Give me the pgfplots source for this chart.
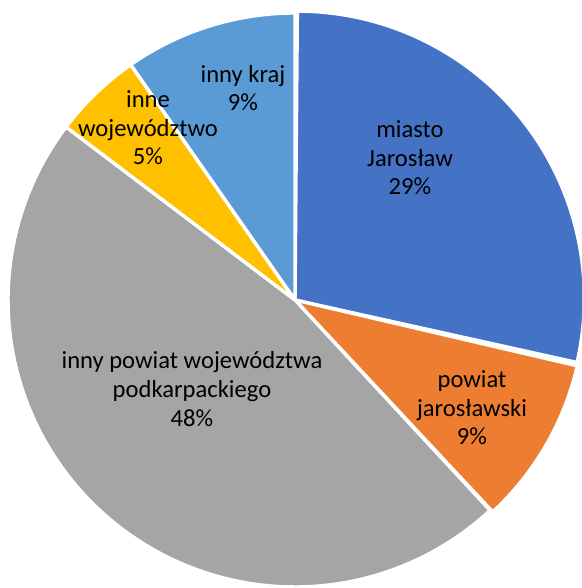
\documentclass[border=0pt]{standalone}
\usepackage{pgfplots}
\pgfplotsset{compat=1.18}
\usepackage{fontspec}
\setmainfont{Carlito}
\definecolor{cBlue}{HTML}{4472C4}
\definecolor{cOrange}{HTML}{ED7D31}
\definecolor{cGray}{HTML}{A5A5A5}
\definecolor{cGold}{HTML}{FFC000}
\definecolor{cLBlue}{HTML}{5B9BD5}
% shares (percent), clockwise from 12 o'clock
\def\vA{28.6}\def\vB{9.5}\def\vC{47.2}\def\vD{5.0}\def\vE{9.7}
\def\cx{295}\def\cy{288}\def\R{287}
\pgfmathsetmacro{\aA}{90}
\pgfmathsetmacro{\aB}{\aA-3.6*\vA}
\pgfmathsetmacro{\aC}{\aB-3.6*\vB}
\pgfmathsetmacro{\aD}{\aC-3.6*\vC}
\pgfmathsetmacro{\aE}{\aD-3.6*\vD}
\pgfmathsetmacro{\aF}{\aE-3.6*\vE}
\newcommand{\slice}[4]{%
  \pgfmathsetmacro{\ox}{\cx+#4*cos((#1+#2)/2)}%
  \pgfmathsetmacro{\oy}{\cy+#4*sin((#1+#2)/2)}%
  \addplot[fill=#3, draw=white, line width=1.7pt, line join=round, domain=#2:#1, samples=90, variable=\t]
    ({\ox+\R*cos(\t)}, {\oy+\R*sin(\t)}) -- (axis cs:\ox,\oy) -- cycle;
}
\tikzset{lbl/.style={font=\fontsize{12.3}{14.3}\selectfont, align=center, text=black, inner sep=0pt}}
\begin{document}
\begin{tikzpicture}
\begin{axis}[x=0.5pt, y=0.5pt, xmin=0, xmax=582, ymin=0, ymax=588,
  hide axis, clip=true]
\path (axis cs:0,0) rectangle (axis cs:582,588);
\slice{\aA}{\aB}{cBlue}{3}
\slice{\aB}{\aC}{cOrange}{3}
\slice{\aC}{\aD}{cGray}{0}
\slice{\aD}{\aE}{cGold}{0}
\slice{\aE}{\aF}{cLBlue}{0}
\node[lbl] at (axis cs:410,430) {miasto\\Jarosław\\29\%};
\node[lbl] at (axis cs:472,180) {powiat\\jarosławski\\9\%};
\node[lbl] at (axis cs:192,199) {inny powiat województwa\\podkarpackiego\\48\%};
\node[lbl] at (axis cs:148,460) {inne\\województwo\\5\%};
\node[lbl] at (axis cs:243,500) {inny kraj\\9\%};
\end{axis}
\end{tikzpicture}
\end{document}
